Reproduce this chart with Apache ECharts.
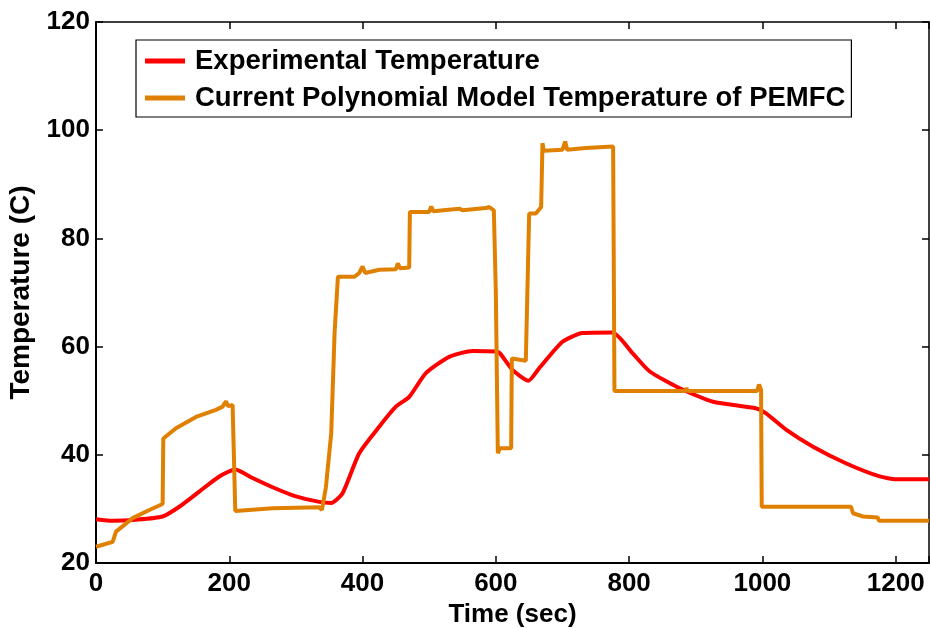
<!DOCTYPE html>
<html>
<head>
<meta charset="utf-8">
<script src="https://cdn.jsdelivr.net/npm/echarts@6/dist/echarts.min.js"></script>
<style>html,body{margin:0;padding:0;background:#fff}#c{width:930px;height:628px}</style>
</head>
<body>
<div id="c"></div>
<script>
// Experimental temperature (time in sec, temperature in C)
const expTime = [0,25,60,100,125,155,185,209,235,265,300,335,353,370,395,425,450,470,495,530,565,600,606,625,649,665,700,730,775,805,831,876,926,990,1005,1036,1076,1126,1176,1201,1250];
const expTemp = [28.1,27.8,28.0,28.6,30.4,33.2,36.0,37.3,35.7,34.0,32.3,31.3,31.1,32.9,40.3,45.2,48.9,50.7,55.1,58.1,59.2,59.1,58.8,55.7,53.7,56.0,60.9,62.5,62.6,58.8,55.4,52.3,49.8,48.6,47.7,44.6,41.5,38.4,36.0,35.5,35.5];
// Current polynomial model temperature of PEMFC
const modelTime = [0,25,30,55,80,100,101,120,150,180,190,195,198,205,207,209,265,335,339,345,353,358,363,388,395,400,404,425,450,453,456,470,471,500,503,506,545,550,585,590,597,600,603,606,623,624,645,650,660,668,670,672,700,704,707,735,776,778,884,886,888,992,995,998,999,1133,1136,1151,1173,1175,1250];
const modelTemp = [23.0,23.9,25.8,28.3,29.8,30.9,43.0,44.9,47.0,48.3,48.9,49.9,49.0,49.2,49.0,29.6,30.1,30.3,29.8,34.0,44.0,62.5,72.9,72.9,73.6,74.8,73.6,74.2,74.3,75.4,74.5,74.6,84.9,84.9,85.9,85.0,85.5,85.2,85.6,85.8,85.2,70.0,40.3,41.2,41.2,57.8,57.4,84.6,84.6,85.8,97.6,96.2,96.4,97.9,96.4,96.7,97.0,51.8,51.8,52.3,51.8,51.8,53.0,52.0,30.4,30.4,29.2,28.6,28.4,27.8,27.8];
const seriesNames = ['Experimental Temperature', 'Current Polynomial Model Temperature of PEMFC'];
const xTicks = [0,200,400,600,800,1000,1200];
const yTicks = [20,40,60,80,100,120];

const zip = (a, b) => a.map((v, i) => [v, b[i]]);
const FONT = '"Liberation Sans", Arial, sans-serif';
const txt = {fontFamily: FONT, fontWeight: 'bold', fontSize: 26, color: '#000'};

const chart = echarts.init(document.getElementById('c'), null, {renderer: 'canvas'});
const mkTick = () => ({show: true, inside: true, length: 7, lineStyle: {color: '#000', width: 1.5}});
const baseX = () => ({
  type: 'value', min: xTicks[0], max: 1250, interval: 200,
  splitLine: {show: false},
  axisLine: {show: true, onZero: false, lineStyle: {color: '#000', width: 2}},
  axisTick: mkTick(),
});
const baseY = () => ({
  type: 'value', min: yTicks[0], max: yTicks[yTicks.length-1], interval: 20,
  splitLine: {show: false},
  axisLine: {show: true, onZero: false, lineStyle: {color: '#000', width: 2}},
  axisTick: mkTick(),
});
chart.setOption({
  animation: false,
  backgroundColor: '#fff',
  grid: {left: 96, top: 22, right: 1, bottom: 65, containLabel: false, outerBoundsMode: 'none'},
  legend: {
    show: true,
    orient: 'vertical', left: 136, top: 40,
    padding: [7, 6, 5, 9],
    itemGap: 9, itemWidth: 40, itemHeight: 5,
    borderColor: '#000', borderWidth: 1.2, backgroundColor: '#fff',
    textStyle: Object.assign({}, txt, {fontSize: 27.5, padding: [0, 0, 0, 5]}),
    data: seriesNames.map(n => ({name: n, icon: 'rect'})),
  },
  xAxis: [
    Object.assign(baseX(), {
      position: 'bottom',
      name: 'Time (sec)', nameLocation: 'middle', nameGap: 33,
      nameTextStyle: txt,
      axisLabel: Object.assign({}, txt, {margin: 8, formatter: v => (v % 200 === 0 ? String(v) : '')}),
    }),
    Object.assign(baseX(), {
      position: 'top', axisLabel: {show: false},
      axisLine: {show: true, onZero: false, lineStyle: {color: '#000', width: 1.5}},
    }),
  ],
  yAxis: [
    Object.assign(baseY(), {
      position: 'left',
      name: 'Temperature (C)', nameLocation: 'middle', nameGap: 58,
      nameTextStyle: Object.assign({}, txt, {fontSize: 28}),
      axisLabel: Object.assign({}, txt, {margin: 6}),
    }),
    Object.assign(baseY(), {
      position: 'right', axisLabel: {show: false},
      axisLine: {show: true, onZero: false, lineStyle: {color: '#000', width: 1.5}},
    }),
  ],
  series: [
    {
      name: seriesNames[0], type: 'line', xAxisIndex: 0, yAxisIndex: 0,
      data: zip(expTime, expTemp), symbol: 'none', smooth: 0.2,
      lineStyle: {color: '#FF0000', width: 4}, itemStyle: {color: '#FF0000'},
      z: 2,
    },
    {
      name: seriesNames[1], type: 'line', xAxisIndex: 0, yAxisIndex: 0,
      data: zip(modelTime, modelTemp), symbol: 'none',
      lineStyle: {color: '#E08000', width: 4}, itemStyle: {color: '#E08000'},
      z: 3,
    },
  ],
});
</script>
</body>
</html>
